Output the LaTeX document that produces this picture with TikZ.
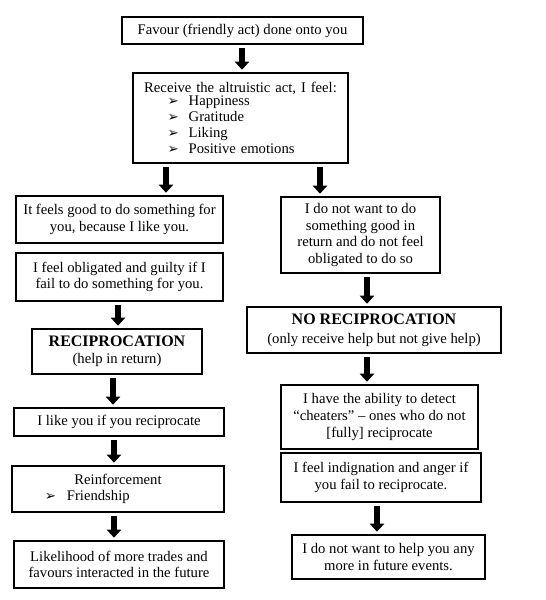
\documentclass[tikz,border=0pt]{standalone}
\usepackage{fontspec}
\setmainfont{Liberation Serif}
\newfontfamily\dejavu{DejaVu Sans}
\usetikzlibrary{arrows.meta}
\newcommand{\arrbul}{{\dejavu\fontsize{10}{10}\selectfont ➢}}% puce fleche
\tikzset{
  flowbox/.style = {draw=black, line width=0.9pt, align=center, inner sep=2pt,
    font=\fontsize{11}{12.5}\selectfont},
  listbox/.style = {flowbox, align=left},% boite avec liste
  downarr/.style = {line width=4.5pt, -{Triangle[width=10.5pt,length=6pt]},
    shorten <=2.5pt, shorten >=2pt}
}
\begin{document}
\begin{tikzpicture}[x=0.75pt,y=-0.75pt]
\useasboundingbox (0,0) rectangle (546,600);
\coordinate (ax1) at (242,0);
\coordinate (ax2) at (166,0);
\coordinate (ax3) at (320,0);
\coordinate (ax4) at (118,0);
\coordinate (ax5) at (113,0);
\coordinate (ax6) at (114,0);
\coordinate (ax7) at (367,0);
\coordinate (ax8) at (377,0);
% top
\node[flowbox, minimum width=180.75pt, minimum height=20.25pt] (favour) at (242.5,30.5)
  {Favour (friendly act) done onto you};
\node[listbox, text width=157.25pt, minimum height=67.5pt] (recv) at (240.5,118)
  {\makebox[\hsize]{Receive the altruistic act, I feel:}\\[-2.5pt]
   \hspace*{24pt}\makebox[15.75pt][l]{\arrbul}Happiness\\[-0.5pt]
   \hspace*{24pt}\makebox[15.75pt][l]{\arrbul}Gratitude\\[-0.5pt]
   \hspace*{24pt}\makebox[15.75pt][l]{\arrbul}Liking\\[-0.5pt]
   \hspace*{24pt}\makebox[15.75pt][l]{\arrbul}Positive emotions};
% left branch
\node[flowbox, minimum width=155.25pt, minimum height=35.25pt] (feelgood) at (119.5,219.5)
  {It feels good to do something for\\you, because I like you.};
\node[flowbox, minimum width=155.25pt, minimum height=36pt] (oblig) at (119.5,277)
  {I feel obligated and guilty if I\\fail to do something for you.};
\node[flowbox, minimum width=127.5pt, minimum height=33.75pt] (recip) at (117,351.5)
  {{\fontsize{12}{12}\selectfont\bfseries RECIPROCATION}\\(help in return)};
\node[flowbox, minimum width=157.5pt, minimum height=21pt] (likeyou) at (119,422)
  {I like you if you reciprocate};
\node[listbox, text width=155pt, minimum height=34.5pt] (reinf) at (118,489)
  {\makebox[\hsize]{Reinforcement}\\[-0.5pt]
   \hspace*{22.7pt}\makebox[16.5pt][l]{\arrbul}Friendship};
\node[flowbox, minimum width=157.5pt, minimum height=35.25pt] (likely) at (119,564.5)
  {Likelihood of more trades and\\favours interacted in the future};
% right branch
\node[flowbox, minimum width=119.25pt, minimum height=57pt] (nowant) at (360.5,235)
  {I do not want to do\\something good in\\return and do not feel\\obligated to do so};
\node[flowbox, minimum width=190.5pt, minimum height=34.5pt] (norecip) at (374,330)
  {{\fontsize{12}{12}\selectfont\bfseries NO RECIPROCATION}\\[2pt](only receive help but not give help)};
\node[flowbox, minimum width=147.75pt, minimum height=48pt] (cheat) at (379.5,417)
  {I have the ability to detect\\“cheaters” – ones who do not\\{[fully]} reciprocate};
\node[flowbox, minimum width=150pt, minimum height=36.75pt] (indig) at (381,477.5)
  {I feel indignation and anger if\\you fail to reciprocate.};
\node[flowbox, minimum width=144.75pt, minimum height=33pt] (nomore) at (388.5,557)
  {I do not want to help you any\\more in future events.};
% arrows
\draw[downarr] (favour.south -| ax1) -- (recv.north -| ax1);
\draw[downarr] (recv.south -| ax2) -- (feelgood.north -| ax2);
\draw[downarr] (recv.south -| ax3) -- (nowant.north -| ax3);
\draw[downarr] (oblig.south -| ax4) -- (recip.north -| ax4);
\draw[downarr] (recip.south -| ax5) -- (likeyou.north -| ax5);
\draw[downarr] (likeyou.south -| ax6) -- (reinf.north -| ax6);
\draw[downarr] (reinf.south -| ax6) -- (likely.north -| ax6);
\draw[downarr] (nowant.south -| ax7) -- (norecip.north -| ax7);
\draw[downarr] (norecip.south -| ax7) -- (cheat.north -| ax7);
\draw[downarr] (indig.south -| ax8) -- (nomore.north -| ax8);
\end{tikzpicture}
\end{document}
